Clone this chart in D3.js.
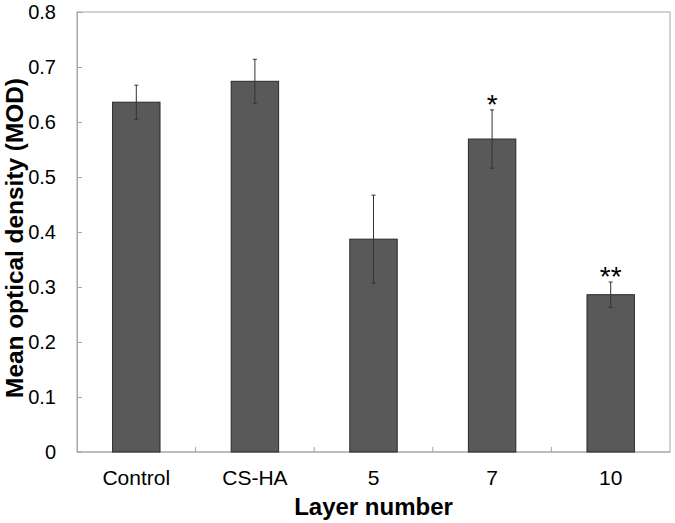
<!DOCTYPE html>
<html>
<head>
<meta charset="utf-8">
<script src="https://cdn.jsdelivr.net/npm/d3@7/dist/d3.min.js"></script>
<style>
  body { margin: 0; background: #fff; }
  text { font-family: "Liberation Sans", Arial, sans-serif; }
</style>
</head>
<body>
<div id="viz"></div>
<script>
const categories = ["Control", "CS-HA", "5", "7", "10"];
const means = [0.636, 0.674, 0.387, 0.569, 0.286];
const errors = [0.031, 0.040, 0.080, 0.053, 0.023];
const marks = ["", "", "", "*", "**"];
const yTicks = [0, 0.1, 0.2, 0.3, 0.4, 0.5, 0.6, 0.7, 0.8];

const W = 675, H = 523;
const margin = { top: 12, right: 5, bottom: 71, left: 77 };
const innerW = W - margin.left - margin.right;
const innerH = H - margin.top - margin.bottom;

const svg = d3.select("#viz").append("svg")
    .attr("width", W).attr("height", H);
const g = svg.append("g")
    .attr("transform", `translate(${margin.left},${margin.top})`);

const x = d3.scaleBand().domain(categories).range([0, innerW]).paddingInner(0).paddingOuter(0);
const y = d3.scaleLinear().domain([0, 0.8]).range([innerH, 0]);

// frame
g.append("rect")
    .attr("width", innerW).attr("height", innerH)
    .attr("fill", "none").attr("stroke", "#a6a6a6").attr("stroke-width", 1);

// y axis
const yAxis = g.append("g")
    .call(d3.axisLeft(y).tickValues(yTicks).tickSize(-5).tickPadding(21)
        .tickFormat(d => d === 0 ? "0" : d3.format(".1f")(d)));
yAxis.select(".domain").attr("stroke", "#a6a6a6");
yAxis.selectAll(".tick line").attr("stroke", "#a6a6a6");
yAxis.selectAll(".tick text").attr("font-size", 20).attr("fill", "#000")
    .attr("font-family", "'Liberation Sans', Arial, sans-serif");

// x axis with ticks between categories
const boundaries = categories.slice(1).map(c => x(c));
g.append("line")
    .attr("x1", 0).attr("x2", innerW).attr("y1", innerH).attr("y2", innerH)
    .attr("stroke", "#a6a6a6");
g.selectAll(".xtick").data(boundaries).join("line")
    .attr("class", "xtick")
    .attr("x1", d => d).attr("x2", d => d)
    .attr("y1", innerH).attr("y2", innerH - 5)
    .attr("stroke", "#a6a6a6");
g.selectAll(".xlabel").data(categories).join("text")
    .attr("class", "xlabel")
    .attr("x", d => x(d) + x.bandwidth() / 2)
    .attr("y", 485 - margin.top)
    .attr("text-anchor", "middle")
    .attr("font-size", 21)
    .text(d => d);

// bars
const barW = x.bandwidth() * 0.4;
const data = categories.map((c, i) => ({ name: c, v: means[i], e: errors[i], m: marks[i] }));
g.selectAll(".bar").data(data).join("rect")
    .attr("class", "bar")
    .attr("x", d => x(d.name) + (x.bandwidth() - barW) / 2)
    .attr("y", d => y(d.v))
    .attr("width", barW)
    .attr("height", d => innerH - y(d.v))
    .attr("fill", "#595959")
    .attr("stroke", "#2a2a2a")
    .attr("stroke-width", 1);

// error bars
const cx = d => x(d.name) + x.bandwidth() / 2;
const eb = g.selectAll(".err").data(data).join("g").attr("class", "err")
    .attr("stroke", "#333333").attr("stroke-width", 1);
eb.append("line")
    .attr("x1", cx).attr("x2", cx)
    .attr("y1", d => y(d.v + d.e)).attr("y2", d => y(d.v - d.e));
eb.append("line")
    .attr("x1", d => cx(d) - 2).attr("x2", d => cx(d) + 2)
    .attr("y1", d => y(d.v + d.e)).attr("y2", d => y(d.v + d.e));
eb.append("line")
    .attr("x1", d => cx(d) - 2).attr("x2", d => cx(d) + 2)
    .attr("y1", d => y(d.v - d.e)).attr("y2", d => y(d.v - d.e));

// significance marks
g.selectAll(".sig").data(data.filter(d => d.m)).join("text")
    .attr("class", "sig")
    .attr("x", cx)
    .attr("y", d => y(d.v + d.e) + 4)
    .attr("text-anchor", "middle")
    .attr("font-size", 28)
    .text(d => d.m);

// axis titles
svg.append("text")
    .attr("x", margin.left + innerW / 2)
    .attr("y", 515)
    .attr("text-anchor", "middle")
    .attr("font-size", 24)
    .attr("font-weight", "bold")
    .text("Layer number");

svg.append("text")
    .attr("transform", "translate(23,238) rotate(-90)")
    .attr("text-anchor", "middle")
    .attr("font-size", 24.4)
    .attr("font-weight", "bold")
    .text("Mean optical density (MOD)");
</script>
</body>
</html>
